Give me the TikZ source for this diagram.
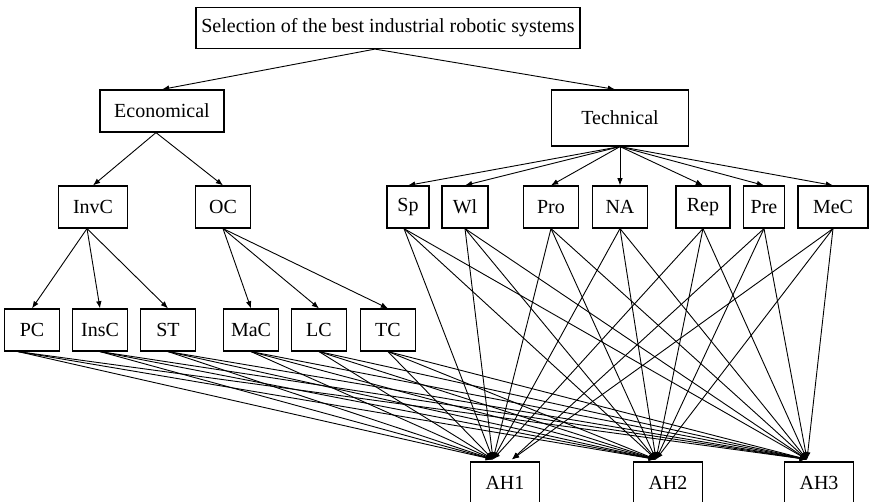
\documentclass[tikz,border=0pt]{standalone}
\usepackage{fontspec}
\setmainfont{Liberation Serif}
\usetikzlibrary{arrows.meta}

\tikzset{box/.style={draw, line width=0.6pt, inner sep=0pt, minimum height=21pt, minimum width=27.5pt, font=\fontsize{10}{12}\selectfont},
  link/.style={-{Latex[length=3.6pt,width=2.8pt]}, line width=0.45pt}}

\begin{document}
\begin{tikzpicture}[x=0.5pt,y=-0.5pt]
\useasboundingbox (0,0) rectangle (869,502);
\node[box, minimum width=192pt, minimum height=20.5pt] (goal) at (388,28) {Selection of the best industrial robotic systems};
\node[box, minimum width=62pt] (econ) at (162,111) {Economical}; \node[box, minimum width=68.5pt, minimum height=28pt] (tech) at (620,118) {Technical};
\node[box, minimum width=34.5pt] (InvC) at (93,207) {InvC}; \node[box] (OC) at (223,207) {OC};
\foreach \n/\x/\w in {Sp/408/21,Wl/465/23,Pro/551/27.5,NA/620/27.5,Rep/703/27,Pre/764/20.5,MeC/833/35} { \node[box, minimum width=\w pt] (\n) at (\x,207) {\n}; };
\foreach \n/\x in {PC/32,InsC/100,ST/168,MaC/251,LC/319,TC/388} { \node[box] (\n) at (\x,330) {\n}; };
\foreach \k/\x in {1/505,2/668,3/819} { \node[box, minimum width=34.5pt] (AH\k) at (\x,483) {AH\k}; \coordinate (h\k) at ([xshift=-6pt,yshift=1pt]AH\k.north); };
\coordinate (h1b) at ([xshift=3.5pt,yshift=1pt]AH1.north);
% hierarchy
\draw[link] ([xshift=-6.5pt]goal.south) -- (econ.north); \draw[link] ([xshift=-6.5pt]goal.south) -- ([xshift=-2.5pt]tech.north);
\foreach \c in {InvC,OC} { \draw[link] ([xshift=-3pt]econ.south) -- (\c.north); };
\foreach \c in {Sp,Wl,Pro,NA,Rep,Pre,MeC} { \draw[link] (tech.south) -- (\c.north); };
\foreach \c in {PC,InsC,ST} { \draw[link] ([xshift=-3pt]InvC.south) -- (\c.north); };
\foreach \c in {MaC,LC,TC} { \draw[link] (OC.south) -- (\c.north); };
% criteria to alternatives
\foreach \c/\s in {PC/-7,InsC/0,ST/0,MaC/0,LC/0,TC/0,Sp/-2,Wl/0,Pro/0,NA/0,Rep/0} { \foreach \a in {1,2,3} { \draw[link] ([xshift=\s pt]\c.south) -- (h\a); }; };
\foreach \c in {Pre,MeC} { \draw[link] (\c.south) -- (h1b); \draw[link] (\c.south) -- (h2); \draw[link] (\c.south) -- (h3); };
\end{tikzpicture}
\end{document}
